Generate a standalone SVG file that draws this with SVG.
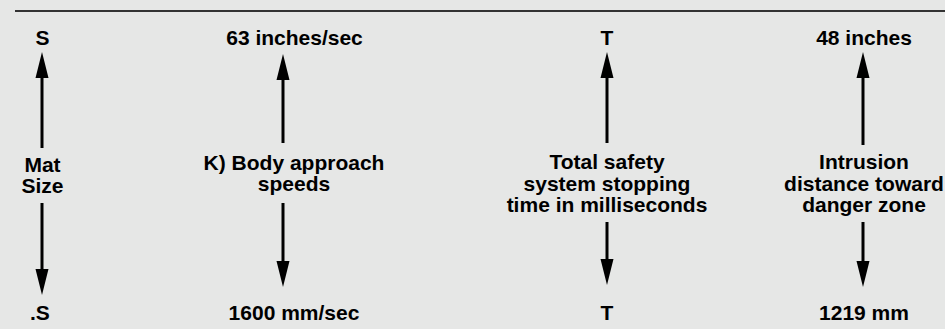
<svg xmlns="http://www.w3.org/2000/svg" width="945" height="329" viewBox="0 0 945 329">
<style>
.t{font-family:"Liberation Sans",Arial,sans-serif;font-weight:bold;font-size:21px;fill:#000;text-anchor:middle}
.s{stroke:#000;stroke-width:3;fill:none}
</style>
<defs>
<marker id="ah" viewBox="0 -7 26 14" markerWidth="26" markerHeight="14" refX="0" refY="0" orient="auto" markerUnits="userSpaceOnUse">
<path d="M0,-6.5 L26,0 L0,6.5 Z" fill="#000"/>
</marker>
</defs>
<rect x="0" y="0" width="945" height="329" fill="#e6e7e6"/>
<line x1="15" y1="11" x2="945" y2="11" stroke="#333" stroke-width="2"/>
<g id="mat-size">
<text class="t" x="42.5" y="45">S</text>
<text class="t" x="42.5" y="172">Mat</text>
<text class="t" x="42.5" y="193">Size</text>
<text class="t" x="30" y="320" style="text-anchor:start">.S</text>
</g>
<g id="body-speed">
<text class="t" x="294.5" y="45">63 inches/sec</text>
<text class="t" x="294" y="170">K) Body approach</text>
<text class="t" x="294" y="191">speeds</text>
<text class="t" x="294" y="320">1600 mm/sec</text>
</g>
<g id="stopping-time">
<text class="t" x="607" y="45">T</text>
<text class="t" x="607" y="169">Total safety</text>
<text class="t" x="607" y="191">system stopping</text>
<text class="t" x="607" y="212">time in milliseconds</text>
<text class="t" x="607" y="320">T</text>
</g>
<g id="intrusion">
<text class="t" x="864" y="45">48 inches</text>
<text class="t" x="864" y="169">Intrusion</text>
<text class="t" x="864" y="191">distance toward</text>
<text class="t" x="864" y="212">danger zone</text>
<text class="t" x="864" y="320">1219 mm</text>
</g>
<g id="connectors">
<line class="s" x1="42" y1="148" x2="42" y2="78" marker-end="url(#ah)"/>
<line class="s" x1="42" y1="203" x2="42" y2="269" marker-end="url(#ah)"/>
<line class="s" x1="283" y1="143" x2="283" y2="80" marker-end="url(#ah)"/>
<line class="s" x1="283" y1="203" x2="283" y2="261" marker-end="url(#ah)"/>
<line class="s" x1="607" y1="143" x2="607" y2="78" marker-end="url(#ah)"/>
<line class="s" x1="607" y1="222" x2="607" y2="259" marker-end="url(#ah)"/>
<line class="s" x1="863" y1="145" x2="863" y2="78" marker-end="url(#ah)"/>
<line class="s" x1="863" y1="222" x2="863" y2="261" marker-end="url(#ah)"/>
</g>
</svg>
